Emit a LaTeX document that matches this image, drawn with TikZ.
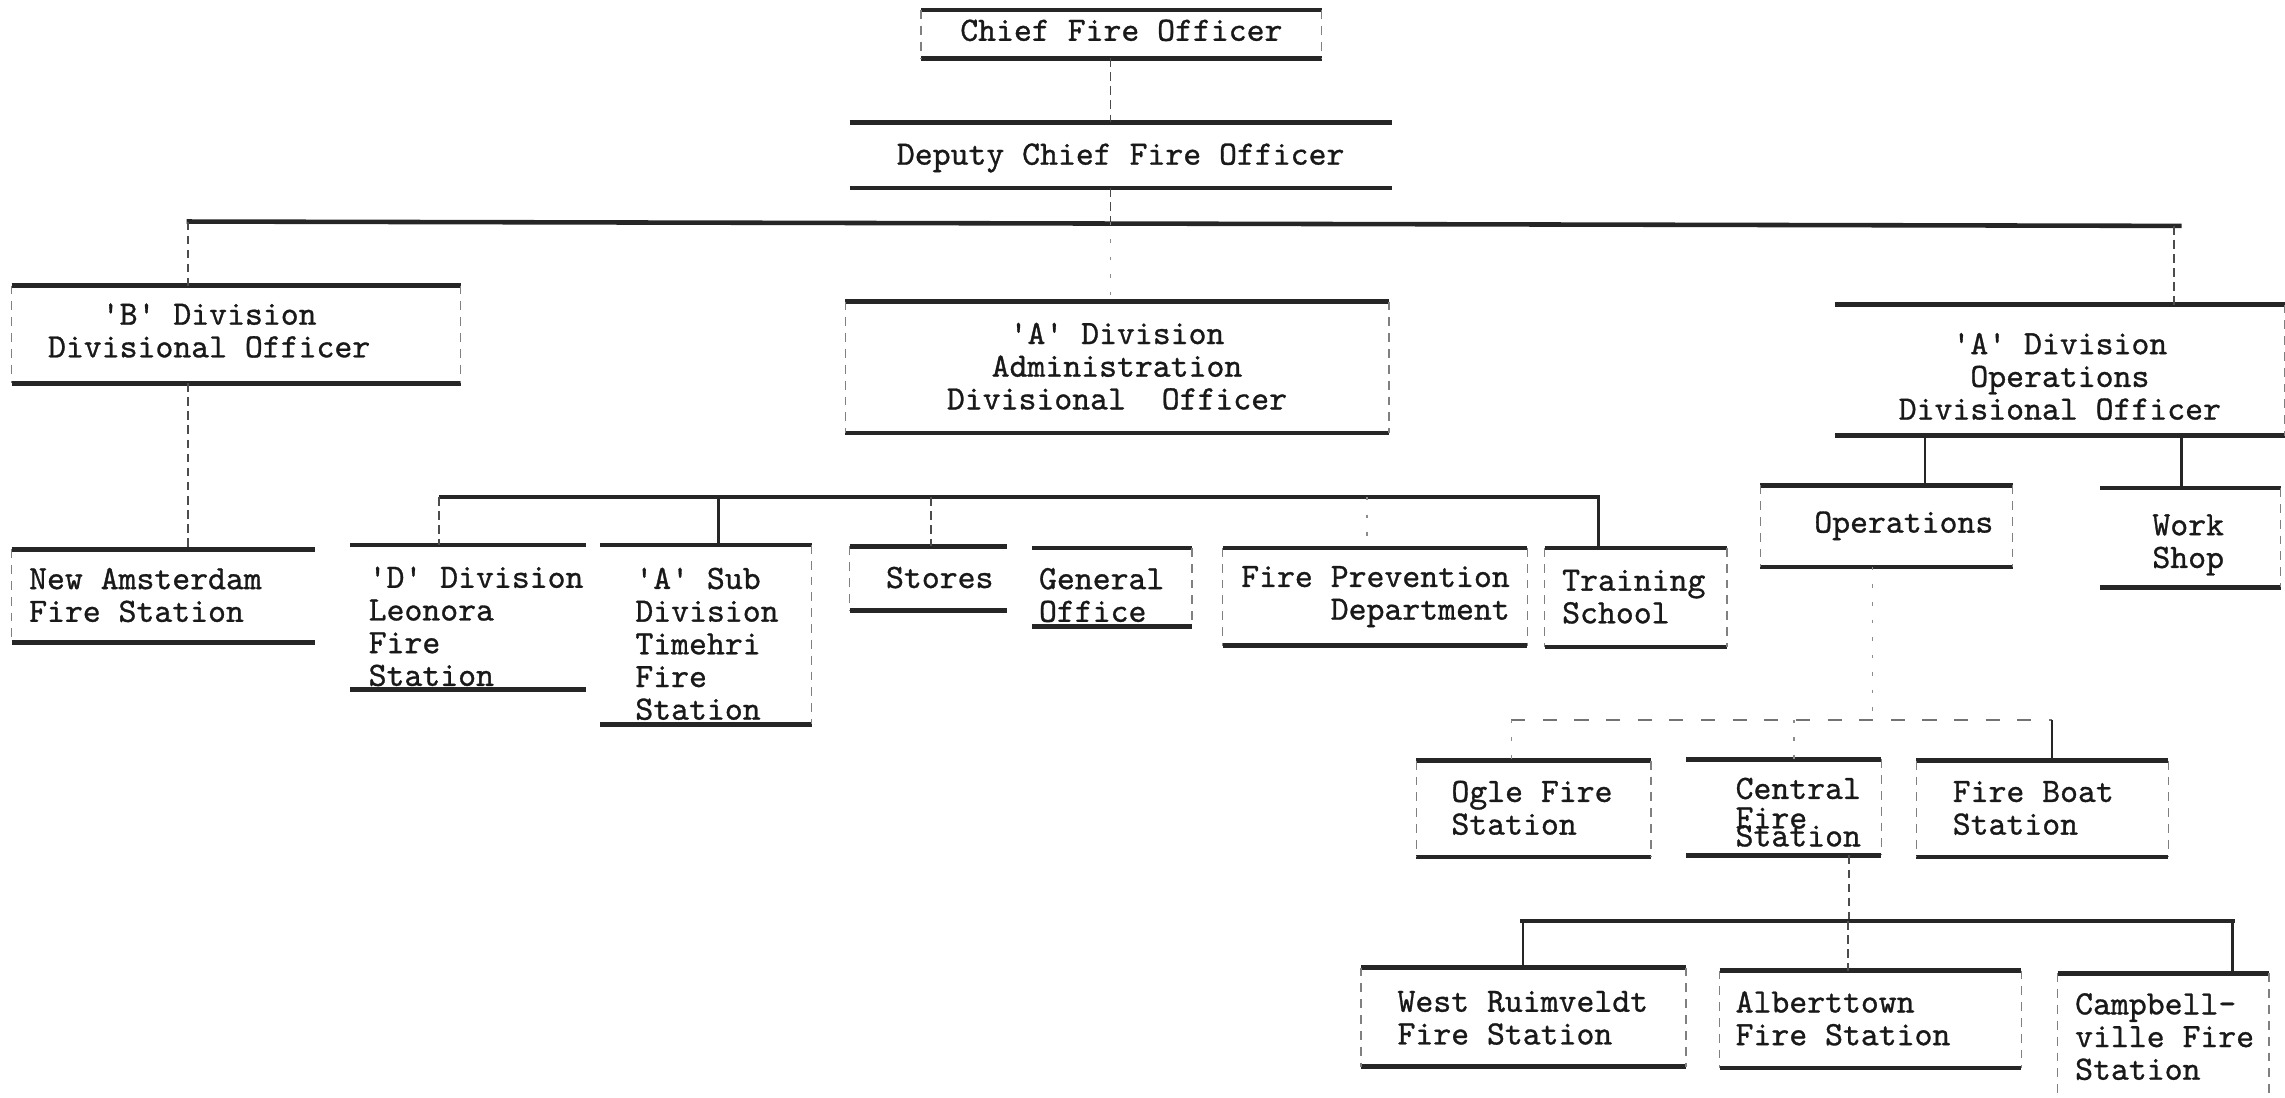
\documentclass[tikz,border=0pt]{standalone}
\usepackage{fontspec}
\setmonofont[FakeBold=0.9]{Latin Modern Mono}
\usetikzlibrary{positioning}
\newlength\pxu
\setlength\pxu{0.01457cm}
\newcommand\tw{\ttfamily\fontsize{9.7pt}{9.3pt}\selectfont}
\newcommand\cbox[2][0]{\raisebox{-#1\pxu}[\height][\depth]{\begin{tabular}{@{}c@{}}#2\end{tabular}}}
\newcommand\lbox[4][0]{\raisebox{-#1\pxu}[\height][\depth]{\makebox[#2\pxu][l]{\hspace*{#3\pxu}\begin{tabular}{@{}l@{}}#4\end{tabular}}}}
\newcommand\rbox[3]{\makebox[#1\pxu][r]{\begin{tabular}{@{}r@{}}#3\end{tabular}\hspace*{#2\pxu}}}
\tikzset{
  orgbox/.style={inner sep=0pt, outer sep=0pt, font=\tw, text=black!90},
  rule/.style={line width=1.3pt, black!85},
  bar/.style={line width=1.3pt, black!85},
  side/.style={line width=0.4pt, black!50, dash pattern=on 2.5pt off 2pt},
  link/.style={line width=0.5pt, black!70, dash pattern=on 2.5pt off 1.5pt},
  faint/.style={line width=0.4pt, black!45, dash pattern=on 1pt off 4pt},
  solidlink/.style={line width=0.7pt, black!85},
  lowbar/.style={line width=0.6pt, black!55, dash pattern=on 4pt off 5pt}
}

\begin{document}
\begin{tikzpicture}[x=0.01457cm, y=-0.01457cm]
    \useasboundingbox (0,0) rectangle (1568,753);

    \node[orgbox, minimum width=275*\pxu, minimum height=33*\pxu] (chief) at (769.5,23.5) {\cbox{Chief Fire Officer}};
    \node[orgbox, minimum width=372*\pxu, minimum height=45*\pxu] (deputy) at (769,106.5) {\cbox[2]{Deputy Chief Fire Officer}};

    \node[orgbox, minimum height=67*\pxu] (bdiv) at (162,229.5) {\lbox{308}{25}{~~~'B' Division\\Divisional Officer}};
    \node[orgbox, minimum width=373*\pxu, minimum height=90*\pxu] (adadmin) at (766.5,252) {\cbox[2]{'A' Division\\Administration\\Divisional~~Officer}};
    \node[orgbox, minimum width=309*\pxu, minimum height=90*\pxu] (adops) at (1413.5,254) {\cbox[7]{'A' Division\\Operations\\Divisional Officer}};

    \node[orgbox, minimum height=64*\pxu] (newam) at (112,409) {\lbox[2]{208}{12}{New Amsterdam\\Fire Station}};
    \node[orgbox, minimum height=99*\pxu] (ddiv) at (321,423.5) {\lbox[9]{162}{13}{'D' Division\\Leonora\\Fire\\Station}};
    \node[orgbox, minimum height=123*\pxu] (asub) at (484.5,435.5) {\lbox[9]{145}{24}{'A' Sub\\Division\\Timehri\\Fire\\Station}};
    \node[orgbox, minimum height=44*\pxu] (stores) at (637,397) {\lbox[2]{108}{25}{Stores}};
    \node[orgbox, minimum height=54*\pxu] (general) at (763,403) {\lbox[8]{110}{5}{General\\Office}};
    \node[orgbox, minimum height=67*\pxu] (fireprev) at (943.5,409.5) {\rbox{209}{12}{Fire Prevention\\Department}};
    \node[orgbox, minimum height=68*\pxu] (training) at (1122.5,410) {\lbox[2]{125}{12}{Training\\School}};

    \node[orgbox, minimum height=56*\pxu] (ops) at (1294.5,361) {\lbox{173}{37}{Operations}};
    \node[orgbox, minimum height=68*\pxu] (workshop) at (1503,369) {\lbox[5]{124}{36}{Work\\Shop}};

    \node[orgbox, minimum height=66*\pxu] (ogle) at (1052.5,555) {\lbox[2]{161}{24}{Ogle Fire\\Station}};
    \node[orgbox, minimum height=66*\pxu] (central) at (1224,554) {\lbox[6]{134}{34}{Central\\[-0.9pt]Fire\\[-4.2pt]Station}};
    \node[orgbox, minimum height=66*\pxu] (boat) at (1401.5,555) {\lbox[2]{173}{25}{Fire Boat\\Station}};

    \node[orgbox, minimum height=68*\pxu] (westr) at (1045.5,698) {\lbox[3]{223}{25}{West Ruimveldt\\Fire Station}};
    \node[orgbox, minimum height=67*\pxu] (albert) at (1283.5,699.5) {\lbox[2]{207}{11}{Alberttown\\Fire Station}};
    \node[orgbox, minimum height=84*\pxu] (campbell) at (1484.5,710) {\lbox[4]{145}{12}{Campbell-\\ville Fire\\Station}};

    \foreach \n in {chief,deputy,bdiv,adadmin,adops,newam,ddiv,asub,stores,general,fireprev,training,ops,workshop,ogle,central,boat,westr,albert,campbell}
      \draw[rule] (\n.north west) -- (\n.north east);
    \foreach \n in {chief,deputy,bdiv,adadmin,adops,newam,ddiv,asub,stores,general,fireprev,training,ops,workshop,ogle,central,boat,westr,albert}
      \draw[rule] (\n.south west) -- (\n.south east);
    \foreach \n in {chief,bdiv,adadmin,newam,stores,fireprev,training,ops,ogle,boat,westr,albert,campbell}
      \draw[side] (\n.north west) -- (\n.south west);
    \foreach \n in {chief,bdiv,adadmin,adops,asub,general,fireprev,training,ops,workshop,ogle,central,boat,westr,albert,campbell}
      \draw[side] (\n.north east) -- (\n.south east);

    \coordinate (jtop) at (762,0);
    \coordinate (jb) at (129,0);
    \coordinate (jops) at (1492,0);
    \coordinate (barL) at (128,152);
    \coordinate (barR) at (1497,155);
    \draw[link] (chief.south -| jtop) -- (deputy.north -| jtop);
    \draw[link] (deputy.south -| jtop) -- (jtop |- barL);
    \draw[bar] (barL) -- (barR);
    \draw[link] (jb |- barL) -- (bdiv.north -| jb);
    \draw[faint] (jtop |- barL) -- (adadmin.north -| jtop);
    \draw[link] (jops |- barR) -- (adops.north -| jops);
    \draw[link] (bdiv.south -| jb) -- (newam.north -| jb);

    \coordinate (midL) at (301,341);
    \coordinate (midR) at (1098,341);
    \draw[bar] (midL) -- (midR);
    \foreach \n/\x/\s in {ddiv/301/link, asub/493/solidlink, stores/639/link, fireprev/938/faint, training/1097/solidlink} {
      \coordinate (j\n) at (\x,341);
      \draw[\s] (j\n) -- (j\n |- \n.north);
    }

    \coordinate (jo1) at (1321,0);
    \coordinate (jo2) at (1497,0);
    \draw[solidlink] (adops.south -| jo1) -- (ops.north -| jo1);
    \draw[solidlink] (adops.south -| jo2) -- (workshop.north -| jo2);

    \coordinate (lowL) at (1037,494);
    \coordinate (lowR) at (1408,494);
    \coordinate (jc) at (1285,494);
    \draw[faint] (ops.south -| jc) -- (jc);
    \draw[lowbar] (lowL) -- (lowR);
    \foreach \n/\x/\s in {ogle/1037/faint, central/1231/faint, boat/1408/solidlink} {
      \coordinate (j\n) at (\x,494);
      \draw[\s] (j\n) -- (j\n |- \n.north);
    }

    \coordinate (jw) at (1269,632);
    \draw[link] (central.south -| jw) -- (jw);
    \draw[bar] (1043,632) -- (1534,632);
    \foreach \n/\x/\s in {westr/1045/solidlink, albert/1268/link, campbell/1532/solidlink} {
      \coordinate (j\n) at (\x,632);
      \draw[\s] (j\n) -- (j\n |- \n.north);
    }
\end{tikzpicture}
\end{document}
